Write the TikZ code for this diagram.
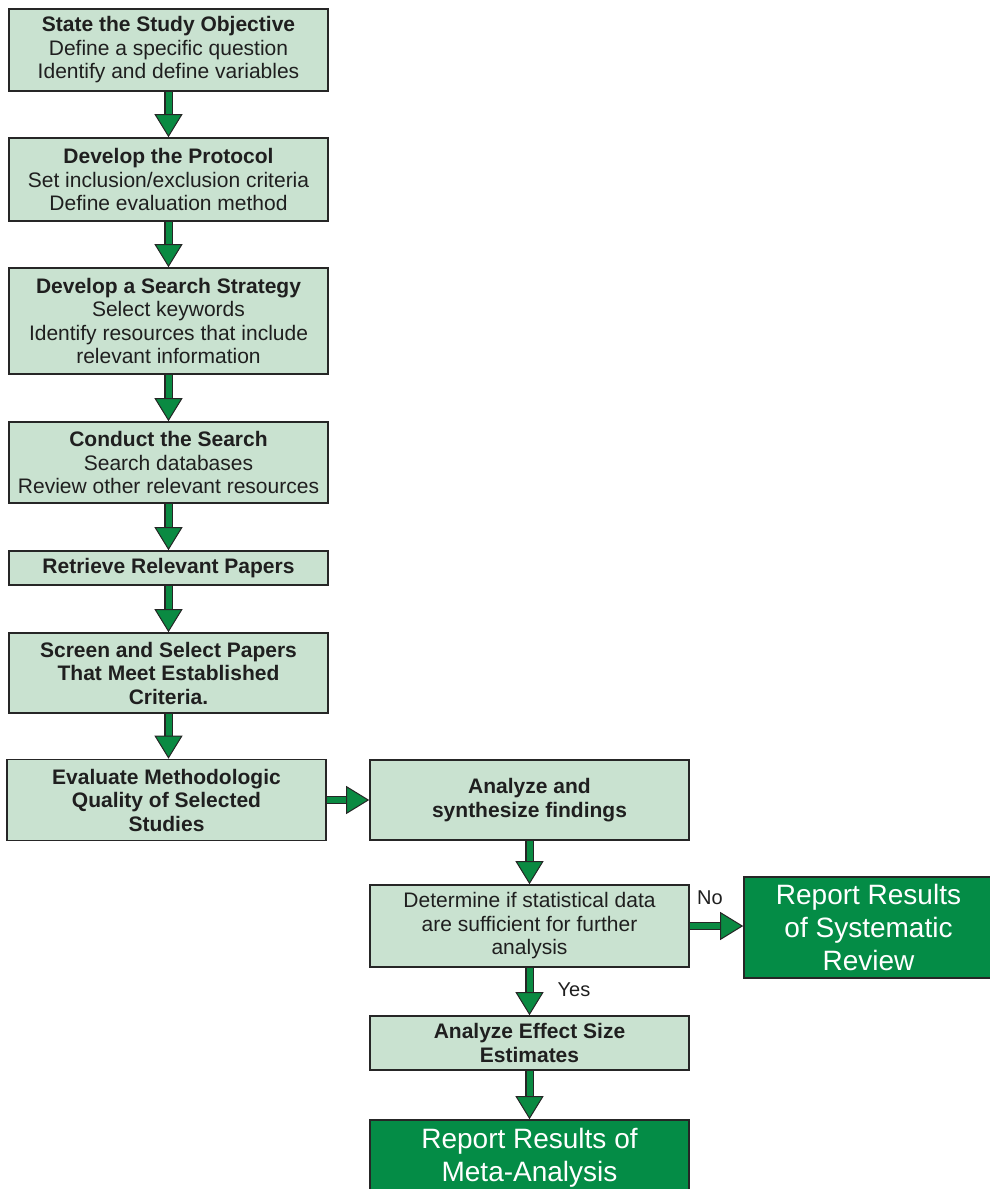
\documentclass[tikz,border=0pt]{standalone}
\usepackage{fontspec}
\setmainfont{Liberation Sans}
\usetikzlibrary{arrows.meta}
\definecolor{boxfill}{RGB}{201,226,208}
\definecolor{boxdark}{RGB}{4,140,70}
\definecolor{arrowgreen}{RGB}{10,138,66}
\definecolor{edge}{RGB}{38,38,38}
\begin{document}
\begin{tikzpicture}[x=1pt,y=-1pt,
  stepbox/.style={draw=edge, line width=1.6pt, fill=boxfill, align=center,
    inner sep=0pt, minimum width=319pt, text=black!88,
    font=\fontsize{21}{23.5}\selectfont},
  resultbox/.style={stepbox, fill=boxdark, text=white,
    font=\fontsize{28}{33}\selectfont},
  flow/.style={line width=6pt, draw=arrowgreen,
    -{Triangle[width=28pt,length=23pt,line width=1pt,color=edge,fill=arrowgreen]},
    preaction={draw=edge, line width=8.4pt, -, shorten >=22pt}},
  tag/.style={font=\fontsize{20}{24}\selectfont, text=black!88}]
\useasboundingbox (0,0) rectangle (990,1189);

% main column
\node[stepbox, minimum height=82pt] (b1) at (168.5,50)
  {\textbf{State the Study Objective}\\Define a specific question\\Identify and define variables};
\node[stepbox, minimum height=83pt] (b2) at (168.5,179.5)
  {\textbf{Develop the Protocol}\\Set inclusion/exclusion criteria\\Define evaluation method};
\node[stepbox, minimum height=106pt] (b3) at (168.5,321)
  {\textbf{Develop a Search Strategy}\\Select keywords\\Identify resources that include\\relevant information};
\node[stepbox, minimum height=81pt] (b4) at (168.5,462.5)
  {\textbf{Conduct the Search}\\Search databases\\Review other relevant resources};
\node[stepbox, minimum height=34pt] (b5) at (168.5,568)
  {\textbf{Retrieve Relevant Papers}};
\node[stepbox, minimum height=80pt] (b6) at (168.5,673)
  {\textbf{Screen and Select Papers}\\\textbf{That Meet Established}\\\textbf{Criteria.}};
\node[stepbox, minimum height=81pt] (b7) at (166.5,800)
  {\textbf{Evaluate Methodologic}\\\textbf{Quality of Selected}\\\textbf{Studies}};

% analysis column
\node[stepbox, minimum height=80pt] (b8) at (529.5,800)
  {\textbf{Analyze and}\\\textbf{synthesize findings}};
\node[stepbox, minimum height=82pt] (b9) at (529.5,926)
  {Determine if statistical data\\are sufficient for further\\analysis};
\node[resultbox, minimum width=249pt, minimum height=101pt] (b10) at (868.5,927.5)
  {Report Results\\of Systematic\\Review};
\node[stepbox, minimum height=54pt] (b11) at (529.5,1043)
  {\textbf{Analyze Effect Size}\\\textbf{Estimates}};
\node[resultbox, minimum height=76pt] (b12) at (529.5,1158)
  {Report Results of\\Meta-Analysis};

% connectors
\draw[flow] (b1.south) -- (b2.north);
\draw[flow] (b2.south) -- (b3.north);
\draw[flow] (b3.south) -- (b4.north);
\draw[flow] (b4.south) -- (b5.north);
\draw[flow] (b5.south) -- (b6.north);
\draw[flow] (b6.south) -- (b6.south |- b7.north);
\draw[flow] (b7.east) -- (b8.west);
\draw[flow] (b8.south) -- (b9.north);
\draw[flow] (b9.east) -- (b9.east -| b10.west);
\draw[flow] (b9.south) -- (b11.north);
\draw[flow] (b11.south) -- (b12.north);

% decision labels
\node[tag] (no) at (710,898) {No};
\node[tag] (yes) at (574,990) {Yes};
\end{tikzpicture}
\end{document}
